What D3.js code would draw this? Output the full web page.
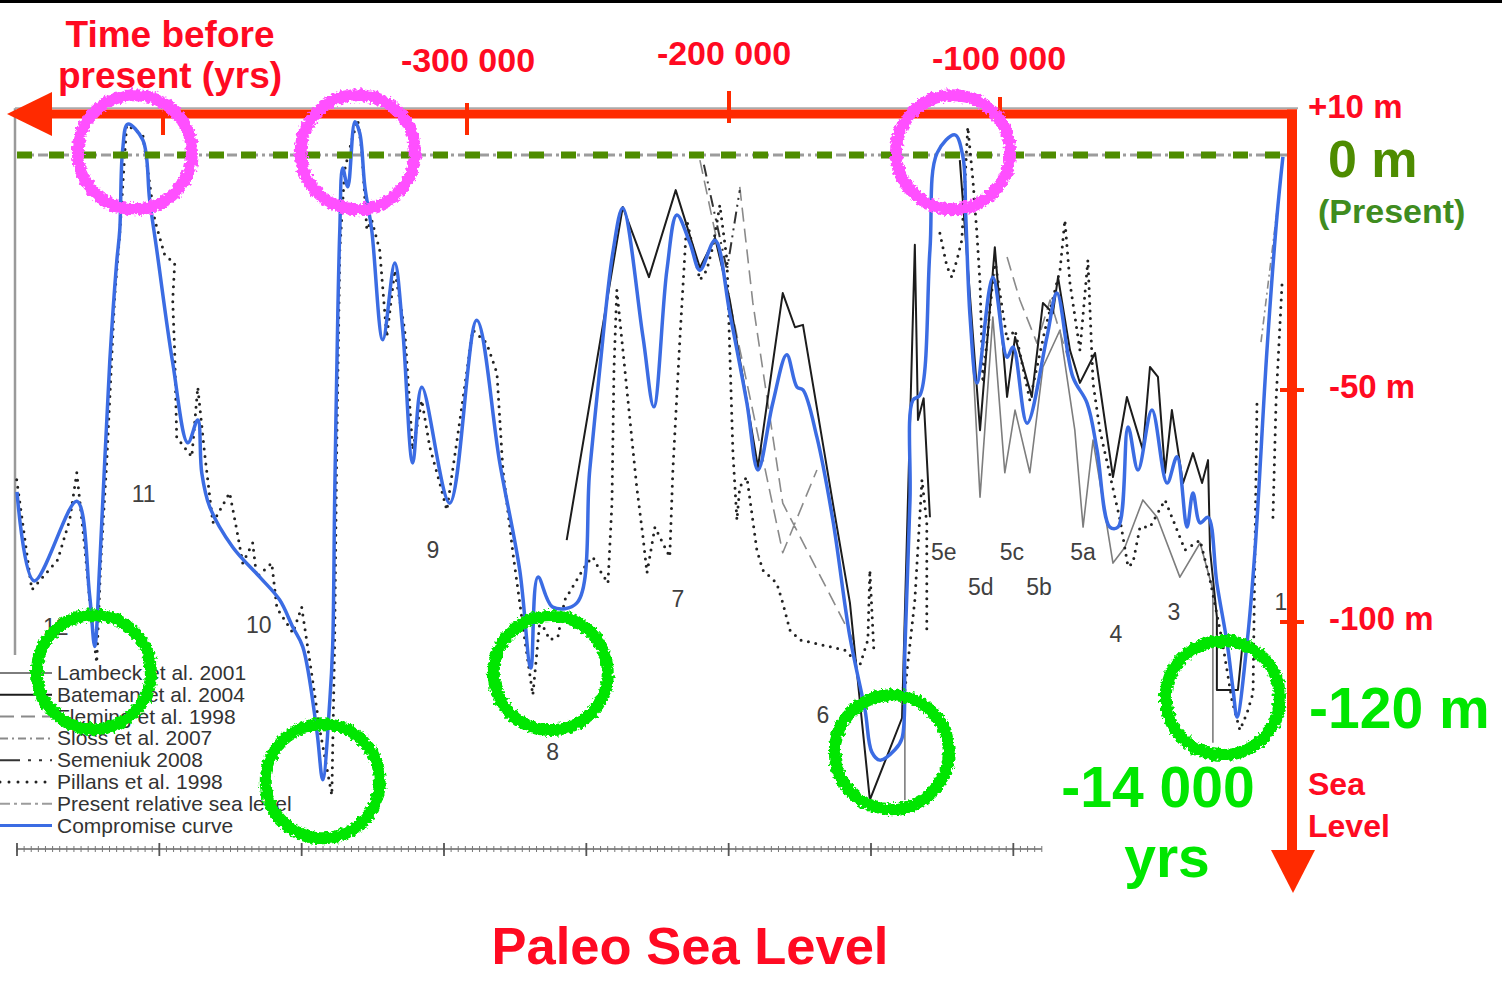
<!DOCTYPE html>
<html><head><meta charset="utf-8">
<script src="https://cdn.jsdelivr.net/npm/d3@7"></script>
<style>body{margin:0;background:#fff;} svg{display:block;font-family:"Liberation Sans",Arial,sans-serif;}</style>
</head><body><svg id="c" width="1502" height="984"></svg>
<script>
// ---------- DATA (time in kyr before present, negative; sea level in m) ----------
const compromise = [[-450,-72],[-444,-91],[-429,-74],[-424.5,-94],[-422.7,-105],[-420.9,-87],[-417.4,-44],[-415,-23],[-413.9,-16],[-412.9,1],[-411.1,6.6],[-405.8,3.2],[-403.4,-9.6],[-400.9,-20.3],[-395.3,-44.4],[-390,-61.5],[-386.5,-56.6],[-385.1,-67.9],[-382.3,-75.2],[-374.2,-83.8],[-364.7,-90.2],[-357.7,-95.1],[-353.1,-100.9],[-349.6,-105.1],[-344.7,-122.9],[-342.6,-133.5],[-340.1,-116.5],[-339.1,-104.7],[-338.4,-73.1],[-337.3,-33.8],[-336.6,-16],[-335.6,-2.8],[-333.8,-6.8],[-331.3,7.1],[-329.6,4.7],[-327.8,-6.8],[-325.4,-16],[-321.5,-39.5],[-317.3,-23.1],[-314.5,-37.4],[-311,-65.8],[-307.8,-49.6],[-298,-74.4],[-288.5,-35.3],[-280.4,-65.8],[-273.4,-88.7],[-269.5,-109.6],[-267,-90.2],[-261.8,-96.6],[-253.3,-95.7],[-248.8,-67.3],[-245.3,-45.9],[-240.7,-20.9],[-237.2,-11.3],[-230.1,-38.9],[-226.3,-53.8],[-221.7,-24.6],[-218.2,-12.8],[-213.6,-18.8],[-210.1,-24.6],[-204.8,-18.2],[-199.6,-33.8],[-193.6,-53],[-189.7,-67.3],[-184.5,-53],[-179.6,-42.7],[-176,-49.6],[-173.9,-50.2],[-169,-60.3],[-163.4,-78],[-157.4,-103],[-152.1,-118.6],[-149.7,-127.6],[-146.9,-129.3],[-141.6,-127.1],[-139.1,-124.6],[-138.1,-105.8],[-136.3,-73.7],[-135.3,-52.4],[-132.8,-51.3],[-129.3,-20.3],[-126.8,0.4],[-120.5,4.3],[-117.7,-0.4],[-116.7,-13.2],[-115.2,-34.6],[-112.8,-48.7],[-107.2,-26.1],[-102.2,-43.2],[-100.1,-41],[-95.2,-57.3],[-88.2,-38.9],[-84.7,-29.5],[-79.1,-47.4],[-74.1,-53],[-70.6,-63],[-66.1,-79.5],[-63.2,-79.5],[-59.7,-58.1],[-56.2,-67.3],[-51.3,-54.5],[-46,-70.1],[-42.5,-64.5],[-39,-79.5],[-36.9,-72.2],[-34.4,-78.6],[-31.6,-77.4],[-28.5,-91.5],[-24.9,-104.3],[-22.8,-114.3],[-21.4,-120.1],[-17.9,-104.3],[-15.1,-84.4],[-10.9,-41.7],[-7.4,-13.2],[-5.3,-0.4]];

const pillans = [[-450.1,-69.4],[-444.8,-92.9],[-435.7,-86.5],[-431.5,-78],[-429,-67.9],[-426.2,-83.8],[-423.8,-99.4],[-422,-108.5],[-420.6,-87.2],[-418.5,-65.8],[-415.7,-30.3],[-413.9,-16.7],[-411.5,6.4],[-405.8,4.3],[-401.6,-13.9],[-398.1,-21.4],[-394.6,-23.1],[-395.3,-31],[-394.6,-42.3],[-393.9,-60.3],[-388.6,-64.5],[-386.5,-49.6],[-384.1,-63.7],[-381.2,-78.6],[-378.1,-75.2],[-375.3,-72.2],[-372.8,-80.1],[-370.7,-87.2],[-367.2,-82.9],[-365.8,-90.2],[-360.5,-87.2],[-358.7,-96.8],[-353.1,-102.1],[-350,-96.6],[-347.2,-107.9],[-343.6,-122.9],[-339.4,-136.8],[-338.4,-103.6],[-337.7,-63],[-336.6,-20.3],[-334.9,-3.2],[-332.4,3.2],[-330.3,7.5],[-328.9,1.1],[-327.1,-16],[-325.4,-13.9],[-322.6,-20.3],[-320.1,-38.9],[-317.3,-24.6],[-313.8,-37.4],[-311,-63],[-307.8,-52.4],[-305,-62.4],[-301.5,-70.1],[-299,-75.9],[-294.4,-56.6],[-289.9,-37.4],[-285,-40.2],[-281.4,-46.6],[-279.3,-67.3],[-275.8,-85],[-271.6,-103.6],[-268.8,-115.4],[-266.3,-99.4],[-262.8,-103.6],[-260,-103],[-257.6,-95.1],[-249.8,-87.2],[-247.7,-85.9],[-245.3,-88.7],[-242.4,-91.5],[-241,-74.4],[-240.3,-45.9],[-239.3,-28.8],[-232.3,-70.9],[-230.1,-81.6],[-228.7,-89.3],[-225.9,-79.5],[-224.2,-81.6],[-220.7,-85.9],[-219.6,-67.3],[-217.1,-38.9],[-214.7,-13.9],[-210.1,-26.7],[-207.7,-24.6],[-205.6,-19.7],[-203.1,-10.7],[-200.6,-22.4],[-198.5,-63.7],[-197.1,-78],[-196.1,-70.9],[-193.6,-68.8],[-190.1,-84.4],[-188,-88.7],[-183.1,-91.5],[-181,-95.7],[-178.5,-101.5],[-175,-103.6],[-159.2,-105.8],[-153.9,-109],[-151.1,-103.6],[-150.4,-88.7],[-149,-105.8],
null,[-138.1,-114.3],[-134.6,-95.1],[-132.1,-69.4],[-130.4,-78.6],[-130.4,-102.1],
null,[-125.8,-16.7],[-123.3,-23.9],[-121.6,-26.1],[-119.8,-22.4],[-118.1,-18.2],[-116,6],[-114.2,-5.3],[-112.8,-16.7],[-111.7,-27.4],[-110.7,-48.7],[-106.5,-22.4],[-102.2,-39.5],[-99.4,-37.4],[-94.2,-52.4],[-88.9,-37.4],[-83.6,-24.6],[-81.9,-13.9],[-80.1,-27.4],[-76.6,-41.7],[-73.8,-22.4],[-72,-48.7],[-69.6,-58.8],[-62.5,-78],[-59.7,-88],[-58,-87.2],[-55.5,-79.5],[-52,-79.5],[-46.7,-73.7],[-39.7,-84.4],[-34.4,-82.3],[-30.9,-90.8],[-26.7,-103.6],[-23.2,-116.5],[-20.4,-122.9],[-17.9,-119.2],[-15.8,-115],[-14.4,-52.4],
null,[-8.8,-77.4],[-7.7,-52.4],[-5.6,-27.4]];

const bateman = [[-256.9,-82.3],[-237.2,-11.1],[-228,-26.1],[-218.6,-7.5],[-210.1,-24.1],[-204.8,-17.7],[-199.6,-31],[-189.7,-66.7],[-181,-29.5],[-176.7,-36.8],[-173.9,-36.3],[-163.4,-74.4],[-157.4,-95.7],[-150.4,-137.8],[-139.1,-120.3],[-134.6,-19.2],[-133.5,-56.6],[-131.5,-52],[-129.3,-77.4],
null,[-118.8,-1.1],[-111.7,-58.8],[-106.5,-19.7],[-102.2,-51.7],[-99.4,-38.9],[-93.5,-51.7],[-89.6,-31.6],[-86.1,-33.8],[-84.3,-26.1],[-80.1,-41.7],[-76.6,-48.7],[-71.3,-42.3],[-65,-68.8],[-60.1,-51.7],[-54.5,-63],[-52,-45.3],[-49.2,-47.4],[-46.7,-67.9],[-44.3,-54.5],[-40.4,-70.1],[-36.9,-63.7],[-33.7,-70.1],[-31.6,-65.2],[-30.9,-84.4],[-28.5,-98.7],[-28.5,-114.3],[-21.1,-114.3],[-19.7,-105.8]];

const lambeck = [[-138.1,-116.5],[-138.1,-137.8],
null,[-116.3,-20.3],[-111.7,-73.1],[-107.2,-34.6],[-103,-67.9],[-99.4,-54.5],[-94.2,-67.9],[-89.6,-45.3],[-83.6,-37.4],[-78.4,-58.8],[-75.5,-79.5],[-72,-60.9],[-65,-87.2],[-60.8,-83.8],[-54.5,-73.7],[-49.5,-77.4],[-41.5,-90.2],[-34.4,-82.9],[-29.9,-92.9],[-29.9,-125.6]];

const fleming = [[-210.1,-1.1],[-181,-85],[-169,-67.3],
null,[-196.1,-6.8],[-191.5,-31.6],[-181,-74.4],[-155,-105.1],
null,[-102.2,-21.8],[-97.7,-31],[-91.7,-40.2],[-87.1,-31],[-80,-45]];

const sloss = [[-13,-40],[-6,-5]];
const semeniuk = [[-208.7,-2.1],[-200.6,-24.6],[-196.1,-7.5]];
const presentRSL = [[-450,0],[0,0]];

const legendLabels = ["Lambeck et al. 2001","Bateman et al. 2004","Fleming et al. 1998","Sloss et al. 2007","Semeniuk 2008","Pillans et al. 1998","Present relative sea level","Compromise curve"];

const stageLabels = [["11",-405.5,-74.1],["12",-436.4,-102.6],["10",-365.1,-102.1],["9",-303.9,-86.1],["8",-261.8,-129.3],["7",-217.8,-96.6],["6",-166.9,-121.4],["5e",-124.4,-86.5],["5d",-111.4,-94],["5c",-100.5,-86.5],["5b",-91.0,-94],["5a",-75.5,-86.5],["4",-64,-104],["3",-43.6,-99.4],["1",-6,-97.2]];

const majorTicks = [-450,-400,-350,-300,-250,-200,-150,-100];
const redTickYears = [-400000,-300000,-200000,-100000];
const redTickLabels = [null,"-300 000","-200 000","-100 000"];
const redLevelTicks = [10,-50,-100];
const redLevelLabels = ["+10 m","-50 m","-100 m"];

const peakHighlights = [[-408.6,0.6],[-330.3,0.6],[-121.2,0.6]];
const lowHighlights = [[-423.0,-110.5],[-342.6,-133.8],[-262.5,-110.7],[-142.7,-127.6],[-26.4,-116.0]];

// ---------- SCALES ----------
const svg = d3.select("#c");
const x = d3.scaleLinear().domain([-450,0]).range([17,1298]);
const y = d3.scaleLinear().domain([0,-100]).range([155,623]);
const xRed = d3.scaleLinear().domain(redTickYears).range([163,467,729,1000]);
const yRed = d3.scaleLinear().domain(redLevelTicks).range([114,390,622]);

const defs = svg.append("defs");
const f = defs.append("filter").attr("id","rough").attr("x","-20%").attr("y","-20%").attr("width","140%").attr("height","140%");
f.append("feTurbulence").attr("type","fractalNoise").attr("baseFrequency","0.3").attr("numOctaves",2).attr("seed",4).attr("result","n");
f.append("feDisplacementMap").attr("in","SourceGraphic").attr("in2","n").attr("scale",7).attr("xChannelSelector","R").attr("yChannelSelector","G");

// top black bar
svg.append("rect").attr("x",0).attr("y",0).attr("width",1502).attr("height",3).attr("fill","#000");

// ---------- ORIGINAL FIGURE ----------
const g = svg.append("g");
g.append("line").attr("x1",x(-450)-2).attr("x2",x(-450)-2).attr("y1",y(10)).attr("y2",655).attr("stroke","#9a9a9a").attr("stroke-width",2.5);
g.append("line").attr("x1",x(-450)-2).attr("x2",x(0)).attr("y1",y(10)).attr("y2",y(10)).attr("stroke","#aaa").attr("stroke-width",2);

// bottom axis
const axY = 849;
g.append("line").attr("x1",x(-450)).attr("x2",x(-90)).attr("y1",axY).attr("y2",axY).attr("stroke","#666").attr("stroke-width",1.6);
const minor = d3.range(-450,-89.9,2.5);
g.selectAll(".mn").data(minor).join("line").attr("x1",d=>x(d)).attr("x2",d=>x(d)).attr("y1",axY-3).attr("y2",axY+3).attr("stroke","#777").attr("stroke-width",1);
g.selectAll(".mj").data(majorTicks).join("line").attr("x1",d=>x(d)).attr("x2",d=>x(d)).attr("y1",axY-6).attr("y2",axY+7).attr("stroke","#555").attr("stroke-width",1.8);

const line = d3.line().defined(d=>d!==null).x(d=>x(d[0])).y(d=>y(d[1]));
const smooth = d3.line().defined(d=>d!==null).x(d=>x(d[0])).y(d=>y(d[1])).curve(d3.curveCatmullRom.alpha(0.5));

const styles = {
  lambeck:{stroke:"#7d7d7d",w:1.6,dash:null},
  bateman:{stroke:"#1c1c1c",w:2,dash:null},
  fleming:{stroke:"#8a8a8a",w:1.6,dash:"14 7"},
  sloss:{stroke:"#8a8a8a",w:1.6,dash:"8 4 2 4"},
  semeniuk:{stroke:"#333",w:2,dash:"12 5 2 5 2 5"},
  pillans:{stroke:"#222",w:3,dash:"0 7.5",cap:"round"},
  present:{stroke:"#9c9c9c",w:3,dash:"10 4 3 4"},
  compromise:{stroke:"#3b6ce3",w:3.5,dash:null}
};
function drawSeries(data, st, gen){
  const p = g.append("path").attr("d",(gen||line)(data)).attr("fill","none")
   .attr("stroke",st.stroke).attr("stroke-width",st.w).attr("stroke-linejoin","round");
  if(st.dash) p.attr("stroke-dasharray",st.dash);
  if(st.cap) p.attr("stroke-linecap",st.cap);
}
drawSeries(presentRSL, styles.present);
drawSeries(lambeck, styles.lambeck);
drawSeries(fleming, styles.fleming);
drawSeries(sloss, styles.sloss);
drawSeries(semeniuk, styles.semeniuk);
drawSeries(bateman, styles.bateman);
drawSeries(pillans, styles.pillans);
drawSeries(compromise, styles.compromise, smooth);

// stage labels
g.selectAll(".st").data(stageLabels).join("text").attr("x",d=>x(d[1])).attr("y",d=>y(d[2]))
 .attr("text-anchor","middle").attr("font-size",23).attr("fill","#404040").text(d=>d[0]);

// legend
const keys = ["lambeck","bateman","fleming","sloss","semeniuk","pillans","present","compromise"];
const lg = g.append("g");
keys.forEach((k,i)=>{
  const yy = 673 + i*21.8;
  const st = styles[k];
  const l = lg.append("line").attr("x1",0).attr("x2",52).attr("y1",yy).attr("y2",yy)
    .attr("stroke",st.stroke).attr("stroke-width",k==="pillans"?3:(k==="compromise"?3:2));
  if(st.dash) l.attr("stroke-dasharray",k==="semeniuk"?"20 8 3 8 3 8":(k==="pillans"?"0 9":st.dash));
  if(st.cap) l.attr("stroke-linecap",st.cap);
  lg.append("text").attr("x",57).attr("y",yy+7).attr("font-size",21).attr("fill","#333").text(legendLabels[i]);
});

// ---------- OVERLAY ----------
const o = svg.append("g");
// green dashed 0 m line
o.append("line").attr("x1",x(-450)).attr("x2",x(-4.6)).attr("y1",y(0)).attr("y2",y(0))
 .attr("stroke","#4e8c00").attr("stroke-width",7).attr("stroke-dasharray","15 17");

const RED="#ff2a00", TRED="#ff0a22";
// horizontal red axis
o.append("line").attr("x1",48).attr("x2",1297).attr("y1",yRed(10)).attr("y2",yRed(10)).attr("stroke",RED).attr("stroke-width",9);
o.append("path").attr("d",`M7,${yRed(10)} L52,${yRed(10)-22} L52,${yRed(10)+22} Z`).attr("fill",RED);
const tTop=[113,103,91,97], tBot=[135,135,123,120];
redTickYears.forEach((v,i)=>{
  o.append("line").attr("x1",xRed(v)).attr("x2",xRed(v)).attr("y1",tTop[i]).attr("y2",tBot[i]).attr("stroke",RED).attr("stroke-width",4);
});
const lblBase=[null,72,65,70], lblDx=[0,1,-5,-1];
redTickLabels.forEach((t,i)=>{ if(t) o.append("text").attr("x",xRed(redTickYears[i])+lblDx[i]).attr("y",lblBase[i])
  .attr("text-anchor","middle").attr("font-size",34).attr("font-weight","bold").attr("fill",TRED).text(t);});
o.append("text").attr("x",170).attr("y",47).attr("text-anchor","middle").attr("font-size",37).attr("font-weight","bold").attr("fill",TRED).text("Time before");
o.append("text").attr("x",170).attr("y",88).attr("text-anchor","middle").attr("font-size",37).attr("font-weight","bold").attr("fill",TRED).text("present (yrs)");

// vertical red axis
o.append("line").attr("x1",1292).attr("x2",1292).attr("y1",yRed(10)-4.5).attr("y2",855).attr("stroke",RED).attr("stroke-width",10);
o.append("path").attr("d","M1271,850 L1315,850 L1293,893 Z").attr("fill",RED);
redLevelTicks.forEach((v,i)=>{
  if(i>0) o.append("line").attr("x1",1280).attr("x2",1304).attr("y1",yRed(v)).attr("y2",yRed(v)).attr("stroke",RED).attr("stroke-width",4);
  o.append("text").attr("x",i===0?1308:1329).attr("y",yRed(v)+(i===0?4:8)).attr("font-size",33).attr("font-weight","bold").attr("fill",TRED).text(redLevelLabels[i]);
});
o.append("text").attr("x",1328).attr("y",177).attr("font-size",52).attr("font-weight","bold").attr("fill","#4e8c00").text("0 m");
o.append("text").attr("x",1318).attr("y",223).attr("font-size",34).attr("font-weight","bold").attr("fill","#3f8c1f").text("(Present)");
o.append("text").attr("x",1309).attr("y",728).attr("font-size",57).attr("font-weight","bold").attr("fill","#00e600").text("-120 m");
o.append("text").attr("x",1158).attr("y",807).attr("text-anchor","middle").attr("font-size",57).attr("font-weight","bold").attr("fill","#00e600").text("-14 000");
o.append("text").attr("x",1167).attr("y",877).attr("text-anchor","middle").attr("font-size",57).attr("font-weight","bold").attr("fill","#00e600").text("yrs");
o.append("text").attr("x",1308).attr("y",795).attr("font-size",32).attr("font-weight","bold").attr("fill",TRED).text("Sea");
o.append("text").attr("x",1308).attr("y",837).attr("font-size",32).attr("font-weight","bold").attr("fill",TRED).text("Level");
o.append("text").attr("x",690).attr("y",964).attr("text-anchor","middle").attr("font-size",52.5).attr("font-weight","bold").attr("fill",TRED).text("Paleo Sea Level");

// highlight circles
const cg = o.append("g").attr("filter","url(#rough)");
cg.selectAll(".pk").data(peakHighlights).join("circle").attr("cx",d=>x(d[0])).attr("cy",d=>y(d[1])).attr("r",57)
  .attr("fill","none").attr("stroke","#ff50ff").attr("stroke-width",12);
cg.selectAll(".lw").data(lowHighlights).join("circle").attr("cx",d=>x(d[0])).attr("cy",d=>y(d[1])).attr("r",57)
  .attr("fill","none").attr("stroke","#00e600").attr("stroke-width",12);
</script></body></html>
